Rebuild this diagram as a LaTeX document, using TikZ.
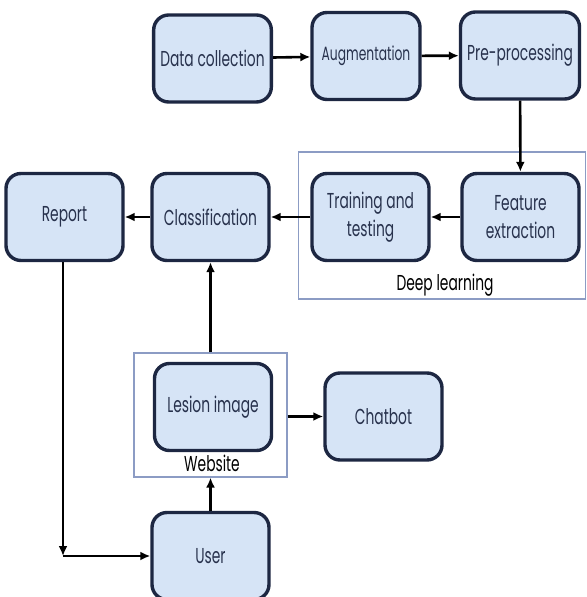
\documentclass[tikz,border=0pt]{standalone}
\usepackage{fontspec}
\setmainfont{Poppins}[FakeStretch=0.64]
\usetikzlibrary{arrows.meta}
\definecolor{boxfill}{HTML}{D6E4F6}
\definecolor{boxline}{HTML}{1D2742}
\definecolor{boxtext}{HTML}{28324D}
\definecolor{framecol}{HTML}{8C9CC4}

\begin{document}
\begin{tikzpicture}[x=0.5pt, y=-0.5pt,
  stage/.style={draw=boxline, fill=boxfill, line width=1.7pt, rounded corners=7.5pt, minimum width=58.5pt, minimum height=43.5pt, align=center, text=boxtext, font=\fontsize{10.8}{14}\selectfont},
  group/.style={draw=framecol, line width=0.6pt},
  flow/.style={line width=1.3pt, -{Latex[length=5pt,width=4.5pt]}},
  caption/.style={text=black, font=\fontsize{10.8}{13}\selectfont}]

\useasboundingbox (0,0) rectangle (586,597);

\node[group, minimum width=143.5pt, minimum height=73.5pt] (deep) at (442,225.5) {};
\node[group, minimum width=76.5pt, minimum height=62pt] (web) at (210.5,415) {};

\node[stage] (data) at (212.5,58.5) {Data collection};
\node[stage, minimum width=54pt, font=\fontsize{9.6}{12}\selectfont] (aug) at (366,56) {Augmentation};
\node[stage] (pre) at (520,55.5) {Pre-processing};
\node[stage] (feat) at (520.5,217) {Feature\\extraction};
\node[stage] (train) at (370.5,217) {Training and\\testing};
\node[stage] (cls) at (210.5,217) {Classification};
\node[stage] (rep) at (64.5,217) {Report};
\node[stage] (lesion) at (213,407) {Lesion image};
\node[stage] (chat) at (383.5,416.5) {Chatbot};
\node[stage] (user) at (210.5,556) {User};

\node[caption] (deeplbl) at (445,285) {Deep learning};
\node[caption] (weblbl) at (212,463) {Website};

\coordinate (turn) at (63,556);

\draw[flow] (data) -- (aug);
\draw[flow] (aug) -- (pre);
\draw[flow] (pre) -- (feat);
\draw[flow] (feat) -- (train);
\draw[flow] (train) -- (cls);
\draw[flow] (cls) -- (rep);
\draw[flow] (web.north -| cls) -- (cls);
\draw[flow] (web.east |- chat) -- (chat);
\draw[flow] (user.north -| web) -- (web.south);
\draw[flow] (rep.south -| turn) -- (turn);
\draw[flow] (turn) -- (user);

\end{tikzpicture}
\end{document}
